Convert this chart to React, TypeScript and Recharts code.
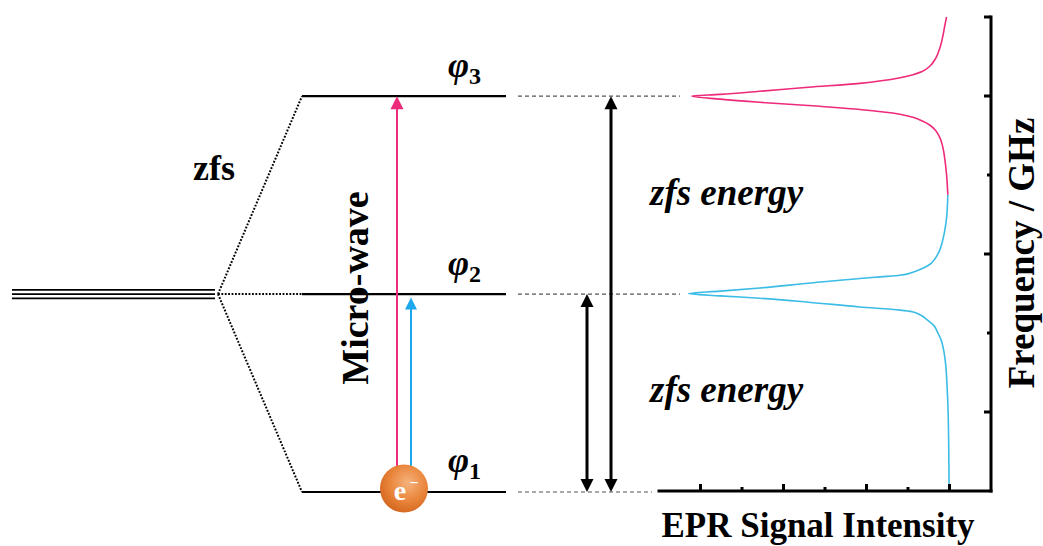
import React from 'react';
import { LineChart, Line, XAxis, YAxis, ReferenceLine, ReferenceDot } from 'recharts';

// ---------------- data ----------------
const freqTicks = [1, 2, 3, 4, 5, 6];
const freqMajorTicks = [1, 3, 5, 6];
const intensityTicks = [1, 2, 3, 4, 5, 6, 7];
const intensityMajorTicks = [1, 3, 5, 7];

const levelSubscripts = ['1', '2', '3'];
const levelEnergies = [0, 2.5, 5];

// EPR signal, low-frequency (blue) part: ordered by frequency
const blueSignal = [
  { intensity: 6.99, freq: 0 },
  { intensity: 6.97, freq: 0.94 },
  { intensity: 6.94, freq: 1.34 },
  { intensity: 6.91, freq: 1.59 },
  { intensity: 6.86, freq: 1.78 },
  { intensity: 6.8, freq: 1.91 },
  { intensity: 6.72, freq: 2.0 },
  { intensity: 6.63, freq: 2.09 },
  { intensity: 6.48, freq: 2.16 },
  { intensity: 6.29, freq: 2.23 },
  { intensity: 6.1, freq: 2.27 },
  { intensity: 5.81, freq: 2.29 },
  { intensity: 4.84, freq: 2.33 },
  { intensity: 3.6, freq: 2.39 },
  { intensity: 2.43, freq: 2.44 },
  { intensity: 1.47, freq: 2.47 },
  { intensity: 0.71, freq: 2.5 },
  { intensity: 1.47, freq: 2.53 },
  { intensity: 2.43, freq: 2.57 },
  { intensity: 3.6, freq: 2.63 },
  { intensity: 4.84, freq: 2.69 },
  { intensity: 5.33, freq: 2.71 },
  { intensity: 5.81, freq: 2.73 },
  { intensity: 6.12, freq: 2.77 },
  { intensity: 6.36, freq: 2.82 },
  { intensity: 6.53, freq: 2.87 },
  { intensity: 6.65, freq: 2.94 },
  { intensity: 6.75, freq: 3.03 },
  { intensity: 6.82, freq: 3.14 },
  { intensity: 6.88, freq: 3.28 },
  { intensity: 6.93, freq: 3.46 },
  { intensity: 6.96, freq: 3.75 },
];

// EPR signal, high-frequency (pink) part
const pinkSignal = [
  { intensity: 6.96, freq: 3.75 },
  { intensity: 6.93, freq: 4.0 },
  { intensity: 6.89, freq: 4.19 },
  { intensity: 6.84, freq: 4.35 },
  { intensity: 6.77, freq: 4.47 },
  { intensity: 6.67, freq: 4.56 },
  { intensity: 6.53, freq: 4.63 },
  { intensity: 6.36, freq: 4.68 },
  { intensity: 6.12, freq: 4.73 },
  { intensity: 5.81, freq: 4.77 },
  { intensity: 4.84, freq: 4.83 },
  { intensity: 3.6, freq: 4.88 },
  { intensity: 2.43, freq: 4.92 },
  { intensity: 1.47, freq: 4.96 },
  { intensity: 0.79, freq: 5.0 },
  { intensity: 1.47, freq: 5.02 },
  { intensity: 2.43, freq: 5.06 },
  { intensity: 3.6, freq: 5.11 },
  { intensity: 4.84, freq: 5.16 },
  { intensity: 5.81, freq: 5.23 },
  { intensity: 6.12, freq: 5.27 },
  { intensity: 6.34, freq: 5.31 },
  { intensity: 6.53, freq: 5.38 },
  { intensity: 6.67, freq: 5.48 },
  { intensity: 6.77, freq: 5.61 },
  { intensity: 6.84, freq: 5.76 },
  { intensity: 6.89, freq: 5.9 },
  { intensity: 6.93, freq: 6.0 },
];

// ---------------- layout / style ----------------
const W = 1043;
const H = 546;
const FONT = "'Liberation Serif', 'Times New Roman', Times, serif";
const PLOT = { top: 17, bottom: 54, left: 659, right: 51 };
const FREQ_DOMAIN: [number, number] = [0, 6];
const PINK = '#EE2A7B';
const BLUE_LINE = '#3BBCE6';
const BLUE_ARROW = '#1DA8EE';
const AXIS_W = 3;

// diagram columns (layout units = px across the canvas)
const COL = {
  degStart: 12,
  degEnd: 215,
  split: 218,
  levelStart: 302,
  levelEnd: 506,
  guideStart: 518,
  guideEndPeak: 680,
  guideEndBase: 652,
  pinkX: 397,
  blueX: 411,
  electronX: 404,
  shortZfsX: 587,
  longZfsX: 611,
};

const yPx = (e: number) =>
  PLOT.top + ((FREQ_DOMAIN[1] - e) / (FREQ_DOMAIN[1] - FREQ_DOMAIN[0])) * (H - PLOT.top - PLOT.bottom - 1);

function makeArrow(color: string, lw: number, headLen: number, headHalf: number, both: boolean, tipGap = 0) {
  return (p: any) => {
    const { x1, y1, x2, y2 } = p;
    const dx = x2 - x1;
    const dy = y2 - y1;
    const len = Math.hypot(dx, dy) || 1;
    const ux = dx / len;
    const uy = dy / len;
    const nx = -uy;
    const ny = ux;
    const ex = x2 - ux * tipGap;
    const ey = y2 - uy * tipGap;
    const head = (tx: number, ty: number, dx0: number, dy0: number) =>
      `${tx},${ty} ${tx - dx0 * headLen + nx * headHalf},${ty - dy0 * headLen + ny * headHalf} ${
        tx - dx0 * headLen - nx * headHalf
      },${ty - dy0 * headLen - ny * headHalf}`;
    const sx = both ? x1 + ux * headLen * 0.7 : x1;
    const sy = both ? y1 + uy * headLen * 0.7 : y1;
    return (
      <g>
        <line x1={sx} y1={sy} x2={ex - ux * headLen * 0.7} y2={ey - uy * headLen * 0.7} stroke={color} strokeWidth={lw} />
        <polygon points={head(ex, ey, ux, uy)} fill={color} />
        {both && <polygon points={head(x1, y1, -ux, -uy)} fill={color} />}
      </g>
    );
  };
}

const tripleShape = (p: any) => {
  const { x1, y1, x2, y2 } = p;
  return (
    <g>
      {[-4.3, 0, 4.3].map((o) => (
        <line key={o} x1={x1} y1={y1 + o} x2={x2} y2={y2 + o} stroke="#000" strokeWidth={1.7} />
      ))}
    </g>
  );
};

const electronShape = (p: any) => {
  const { cx, cy } = p;
  const c = cy - 3.5;
  return (
    <g>
      <circle cx={cx} cy={c} r={24} fill="url(#electronGrad)" />
      <text x={cx - 4} y={c + 11} textAnchor="middle" fill="#fff" fontFamily={FONT} fontWeight="bold" fontSize={28}>
        e
      </text>
      <text x={cx + 10} y={c - 1} textAnchor="middle" fill="#fff" fontFamily={FONT} fontWeight="bold" fontSize={16}>
        −
      </text>
    </g>
  );
};

const XTick = (p: any) => {
  const { x, y, payload } = p;
  const len = intensityMajorTicks.includes(payload.value) ? 7 : 4;
  return <line x1={x} y1={y} x2={x} y2={y - len} stroke="#000" strokeWidth={AXIS_W} />;
};

const YTick = (p: any) => {
  const { x, y, payload } = p;
  const len = freqMajorTicks.includes(payload.value) ? 7 : 4;
  return <line x1={x} y1={y} x2={x - len} y2={y} stroke="#000" strokeWidth={AXIS_W} />;
};

// level segments as data series for the diagram chart
const levelSeries = levelEnergies.map((e) => [
  { x: COL.levelStart, e },
  { x: COL.levelEnd, e },
]);
const splitSeries = levelEnergies.map((e) => [
  { x: COL.split, e: levelEnergies[1] },
  { x: COL.levelStart, e },
]);

function Diagram() {
  const phi1 = levelEnergies[0];
  const phi2 = levelEnergies[1];
  const phi3 = levelEnergies[2];
  return (
    <LineChart width={W} height={H} margin={{ top: PLOT.top, bottom: PLOT.bottom, left: 0, right: 0 }}>
      <defs>
        <radialGradient id="electronGrad" cx="58%" cy="38%" r="65%">
          <stop offset="0%" stopColor="#F6B27C" />
          <stop offset="60%" stopColor="#E9843A" />
          <stop offset="100%" stopColor="#D4661F" />
        </radialGradient>
      </defs>
      <XAxis type="number" dataKey="x" domain={[0, W]} hide height={1} />
      <YAxis type="number" domain={FREQ_DOMAIN} hide width={1} />
      {splitSeries.map((d, i) => (
        <Line
          key={'split' + i}
          data={d}
          dataKey="e"
          type="linear"
          stroke="#000"
          strokeWidth={2}
          strokeDasharray="1.8 1.6"
          dot={false}
          activeDot={false}
          isAnimationActive={false}
        />
      ))}
      {levelSeries.map((d, i) => (
        <Line
          key={'lvl' + i}
          data={d}
          dataKey="e"
          type="linear"
          stroke="#000"
          strokeWidth={2.2}
          dot={false}
          activeDot={false}
          isAnimationActive={false}
        />
      ))}
      {/* degenerate level */}
      <ReferenceLine
        segment={[{ x: COL.degStart, y: phi2 }, { x: COL.degEnd, y: phi2 }]}
        shape={tripleShape}
      />
      {/* guide dashed lines */}
      {levelEnergies.map((e, i) => (
        <ReferenceLine
          key={'guide' + i}
          segment={[{ x: COL.guideStart, y: e }, { x: i === 0 ? COL.guideEndBase : COL.guideEndPeak, y: e }]}
          stroke="#555"
          strokeWidth={1.1}
          strokeDasharray="4 3"
        />
      ))}
      {/* microwave transitions */}
      <ReferenceLine
        segment={[{ x: COL.pinkX, y: phi1 }, { x: COL.pinkX, y: phi3 }]}
        shape={makeArrow(PINK, 2, 13, 6.5, false)}
      />
      <ReferenceLine
        segment={[{ x: COL.blueX, y: phi1 }, { x: COL.blueX, y: phi2 }]}
        shape={makeArrow(BLUE_ARROW, 2, 12, 6, false, 3.5)}
      />
      {/* zfs energy arrows */}
      <ReferenceLine
        segment={[{ x: COL.shortZfsX, y: phi1 }, { x: COL.shortZfsX, y: phi2 }]}
        shape={makeArrow('#000', 3, 13, 6.5, true)}
      />
      <ReferenceLine
        segment={[{ x: COL.longZfsX, y: phi1 }, { x: COL.longZfsX, y: phi3 }]}
        shape={makeArrow('#000', 3, 13, 6.5, true)}
      />
      <ReferenceDot x={COL.electronX} y={phi1} r={24} shape={electronShape} />
    </LineChart>
  );
}

function Spectrum() {
  return (
    <LineChart width={W} height={H} margin={PLOT}>
      <XAxis
        type="number"
        dataKey="intensity"
        domain={[0, 8]}
        ticks={intensityTicks}
        interval={0}
        height={1}
        tickSize={0}
        tickMargin={0}
        tickLine={false}
        tick={<XTick />}
        axisLine={{ stroke: '#000', strokeWidth: AXIS_W, strokeLinecap: 'square' }}
      />
      <YAxis
        type="number"
        orientation="right"
        domain={FREQ_DOMAIN}
        ticks={freqTicks}
        interval={0}
        width={1}
        tickSize={0}
        tickMargin={0}
        tickLine={false}
        tick={<YTick />}
        axisLine={{ stroke: '#000', strokeWidth: AXIS_W, strokeLinecap: 'square' }}
      />
      <Line
        data={blueSignal}
        dataKey="freq"
        type="monotoneY"
        stroke={BLUE_LINE}
        strokeWidth={1.6}
        dot={false}
        activeDot={false}
        isAnimationActive={false}
      />
      <Line
        data={pinkSignal}
        dataKey="freq"
        type="monotoneY"
        stroke={PINK}
        strokeWidth={1.6}
        dot={false}
        activeDot={false}
        isAnimationActive={false}
      />
    </LineChart>
  );
}

function Texts() {
  const t = { fontFamily: FONT, fontWeight: 'bold' as const, fill: '#000' };
  return (
    <svg width={W} height={H} style={{ position: 'absolute', left: 0, top: 0, pointerEvents: 'none' }}>
      <text x={193} y={180} fontSize={36} {...t}>
        zfs
      </text>
      <text x={368} y={288} fontSize={38} textAnchor="middle" transform="rotate(-90 368 288)" {...t}>
        Micro-wave
      </text>
      {levelEnergies.map((e, i) => (
        <text key={i} x={448} y={yPx(e) - 19} fontSize={36} fontStyle="italic" {...t}>
          φ
          <tspan fontSize={24} fontStyle="normal" dy={7}>
            {levelSubscripts[i]}
          </tspan>
        </text>
      ))}
      <text x={650} y={205} fontSize={37} fontStyle="italic" {...t}>
        zfs energy
      </text>
      <text x={650} y={402} fontSize={37} fontStyle="italic" {...t}>
        zfs energy
      </text>
      <text x={818} y={537} fontSize={35} textAnchor="middle" {...t}>
        EPR Signal Intensity
      </text>
      <text x={1034} y={253} fontSize={37} textAnchor="middle" transform="rotate(-90 1034 253)" {...t}>
        Frequency / GHz
      </text>
    </svg>
  );
}

export default function App() {
  return (
    <div style={{ position: 'absolute', left: 0, top: 0, width: W, height: H, background: '#fff', overflow: 'hidden' }}>
      <div style={{ position: 'absolute', left: 0, top: 0 }}>
        <Diagram />
      </div>
      <div style={{ position: 'absolute', left: 0, top: 0 }}>
        <Spectrum />
      </div>
      <Texts />
    </div>
  );
}
